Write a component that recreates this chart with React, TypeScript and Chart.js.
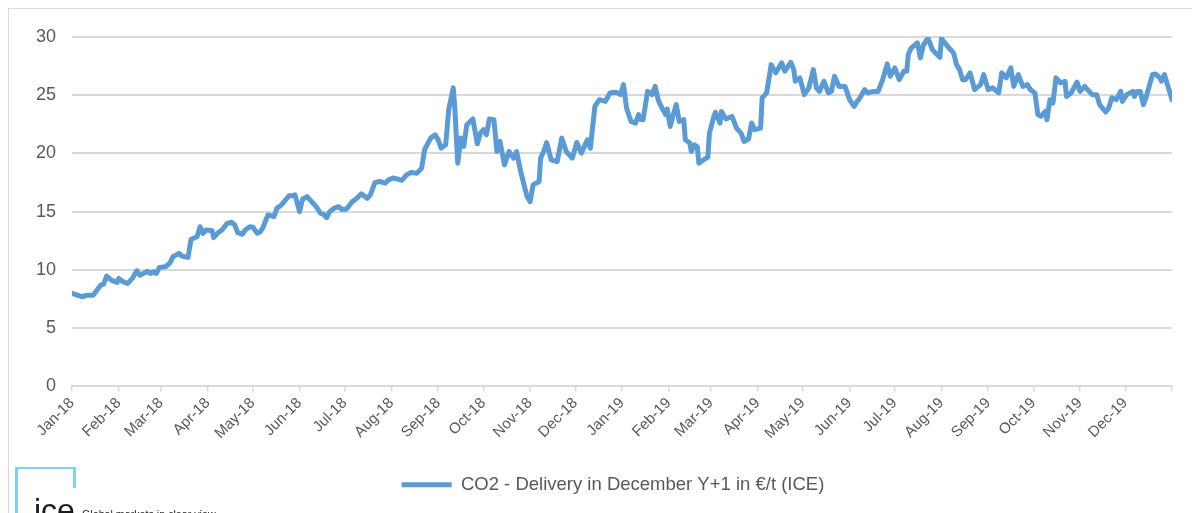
import React, { useEffect, useRef } from "react";
import { Chart, registerables } from "chart.js";

Chart.register(...registerables);

const seriesLabel = "CO2 - Delivery in December Y+1 in €/t (ICE)";

// Trading days, as day offsets from 1 Jan 2018
const dayOffsets = [
  0, 7, 10, 14, 19, 21, 23, 26, 30, 31, 34, 37, 40, 43, 45, 50, 52, 54, 56, 58,
  62, 65, 67, 71, 73, 77, 79, 83, 85, 87, 89, 93, 94, 97, 100, 103, 106, 108, 110, 113,
  115, 118, 120, 123, 125, 127, 130, 134, 136, 139, 144, 146, 148, 151, 153, 156, 159, 162, 165, 167,
  169, 171, 174, 177, 179, 182, 186, 189, 192, 196, 198, 201, 204, 208, 210, 213, 219, 222, 225, 229,
  232, 234, 238, 241, 243, 245, 248, 250, 253, 254, 256, 258, 260, 262, 266, 269, 271, 273, 275, 277,
  280, 282, 284, 287, 290, 293, 295, 298, 302, 304, 306, 310, 311, 313, 315, 318, 322, 325, 328, 332,
  335, 338, 342, 344, 347, 350, 354, 357, 361, 364, 366, 368, 371, 374, 376, 377, 379, 382, 385, 387,
  389, 391, 394, 395, 397, 399, 401, 403, 406, 407, 410, 411, 413, 415, 416, 419, 422, 423, 426, 427,
  430, 431, 434, 438, 441, 444, 446, 449, 451, 453, 457, 458, 461, 464, 467, 471, 473, 477, 479, 480,
  483, 486, 489, 492, 494, 496, 499, 502, 504, 506, 509, 513, 516, 519, 521, 522, 526, 528, 532, 535,
  538, 541, 543, 546, 549, 552, 554, 555, 557, 561, 563, 565, 568, 571, 573, 576, 577, 581, 585, 587,
  589, 591, 593, 596, 599, 603, 605, 608, 611, 615, 617, 620, 623, 625, 628, 631, 634, 636, 639, 641,
  643, 646, 647, 649, 651, 653, 656, 659, 660, 663, 667, 669, 672, 674, 677, 680, 682, 686, 688, 690,
  693, 696, 697, 700, 704, 705, 707, 709, 711, 713, 717, 719, 722, 723, 725, 728, 730,
];

const prices = [
  7.98, 7.69, 7.83, 7.83, 8.69, 8.78, 9.47, 9.12, 8.93, 9.27, 8.98, 8.84, 9.27, 9.93, 9.55, 9.87, 9.7, 9.84, 9.7, 10.22,
  10.27, 10.61, 11.13, 11.42, 11.19, 11.08, 12.63, 12.85, 13.71, 13.14, 13.43, 13.37, 12.77, 13.2, 13.49, 14.0, 14.09, 13.86, 13.2, 13.06,
  13.43, 13.71, 13.66, 13.14, 13.28, 13.71, 14.72, 14.57, 15.3, 15.58, 16.36, 16.36, 16.44, 15.0, 16.07, 16.3, 15.86, 15.43, 14.86, 14.78,
  14.49, 15.0, 15.3, 15.43, 15.21, 15.21, 15.86, 16.15, 16.53, 16.15, 16.44, 17.5, 17.59, 17.45, 17.73, 17.9, 17.7, 18.16, 18.36, 18.31,
  18.74, 20.32, 21.32, 21.6, 21.18, 20.46, 20.75, 23.76, 25.63, 24.04, 19.17, 21.32, 20.6, 22.47, 22.96, 20.83, 21.75, 22.04, 21.6, 22.96,
  22.9, 20.17, 21.03, 19.02, 20.17, 19.6, 20.17, 18.31, 16.3, 15.86, 17.3, 17.59, 19.6, 20.17, 20.94, 19.45, 19.31, 21.32, 20.17, 19.6,
  20.94, 20.03, 21.18, 20.46, 24.04, 24.62, 24.47, 25.2, 25.25, 25.05, 25.91, 23.9, 22.75, 22.61, 23.33, 22.96, 22.9, 25.33, 25.05, 25.76,
  24.62, 24.04, 23.33, 23.82, 22.32, 23.33, 24.19, 22.75, 22.9, 21.18, 20.89, 20.17, 20.75, 20.55, 19.17, 19.45, 19.68, 21.75, 23.18, 23.53,
  22.61, 23.61, 22.96, 23.18, 22.18, 21.75, 21.03, 21.24, 22.61, 22.04, 22.18, 24.77, 25.2, 27.63, 26.92, 27.78, 27.06, 27.83, 27.2, 26.2,
  26.49, 25.05, 25.63, 27.2, 25.63, 25.33, 26.2, 25.2, 25.33, 26.63, 25.76, 25.76, 24.62, 24.04, 24.47, 24.6, 25.48, 25.2, 25.33, 25.33,
  26.34, 27.69, 26.63, 27.35, 26.34, 27.06, 27.06, 28.49, 29.07, 29.5, 28.21, 29.29, 29.92, 28.92, 28.64, 28.26, 29.87, 29.21, 28.64, 27.63,
  27.2, 26.34, 26.34, 26.92, 25.48, 25.91, 26.77, 25.48, 25.63, 25.2, 26.92, 26.49, 27.35, 25.76, 26.77, 25.76, 25.91, 25.48, 25.2, 23.33,
  23.18, 23.61, 22.9, 24.62, 24.33, 26.49, 26.06, 26.2, 24.9, 25.2, 26.12, 25.33, 25.76, 25.48, 25.05, 25.05, 24.19, 23.56, 23.9, 24.77,
  24.62, 25.33, 24.47, 25.05, 25.33, 24.9, 25.33, 25.33, 24.19, 24.9, 26.77, 26.83, 26.49, 26.2, 26.77, 25.48, 24.62,
];

// Month starts (day offsets from 1 Jan 2018) and their labels
const monthTickDays = [
  0, 31, 59, 90, 120, 151, 181, 212, 243, 273, 304, 334,
  365, 396, 424, 455, 485, 516, 546, 577, 608, 638, 669, 699, 730,
];
const monthTickLabels = [
  "Jan-18", "Feb-18", "Mar-18", "Apr-18", "May-18", "Jun-18", "Jul-18", "Aug-18", "Sep-18", "Oct-18", "Nov-18", "Dec-18",
  "Jan-19", "Feb-19", "Mar-19", "Apr-19", "May-19", "Jun-19", "Jul-19", "Aug-19", "Sep-19", "Oct-19", "Nov-19", "Dec-19",
  "",
];
const yTickValues = [0, 5, 10, 15, 20, 25, 30];

const FONT = "'Liberation Sans', Arial, Helvetica, sans-serif";
const TEXT = "#595959";
const GRID = "#d9d9d9";
const LINE = "#5B9BD5";
const LOGO = "#7fd1ee";

export default function App() {
  const ref = useRef<HTMLCanvasElement>(null);

  useEffect(() => {
    document.documentElement.style.overflow = "hidden";
    const chart = new Chart(ref.current as HTMLCanvasElement, {
      type: "line",
      data: {
        datasets: [
          {
            label: seriesLabel,
            data: dayOffsets.map((d, i) => ({ x: d, y: prices[i] })),
            borderColor: LINE,
            backgroundColor: LINE,
            borderWidth: 5,
            pointRadius: 0,
            pointHoverRadius: 0,
            tension: 0,
            borderJoinStyle: "round",
            borderCapStyle: "round",
          },
        ],
      },
      options: {
        animation: false,
        responsive: false,
        events: [],
        layout: { padding: { left: 27, right: 0, top: 28, bottom: 0 } },
        plugins: {
          legend: {
            position: "bottom",
            labels: {
              usePointStyle: true,
              pointStyle: "line",
              pointStyleWidth: 50,
              padding: 30,
              color: TEXT,
              font: { family: FONT, size: 18.5 },
            },
          },
          tooltip: { enabled: false },
        },
        scales: {
          x: {
            type: "linear",
            min: 0,
            max: 730,
            afterBuildTicks: (scale: any) => {
              scale.ticks = monthTickDays.map((v) => ({ value: v }));
            },
            afterFit: (scale: any) => {
              scale.paddingRight = 18;
            },
            ticks: {
              autoSkip: false,
              maxRotation: 45,
              minRotation: 45,
              padding: 3,
              color: TEXT,
              font: { family: FONT, size: 15 },
              callback: (_v: any, i: number) => monthTickLabels[i],
            },
            grid: {
              drawOnChartArea: false,
              drawTicks: true,
              tickLength: 5,
              color: GRID,
              lineWidth: 1.5,
            },
            border: { display: true, color: GRID, width: 2 },
          },
          y: {
            min: 0,
            max: 30,
            afterBuildTicks: (scale: any) => {
              scale.ticks = yTickValues.map((v) => ({ value: v }));
            },
            afterFit: (scale: any) => {
              scale.width = 36;
            },
            ticks: {
              padding: 16,
              color: TEXT,
              font: { family: FONT, size: 18 },
            },
            grid: { color: GRID, lineWidth: 2, drawTicks: false },
            border: { display: false },
          },
        },
      },
    } as any);
    return () => chart.destroy();
  }, []);

  return (
    <div
      style={{
        position: "relative",
        width: 1191,
        height: 504,
        borderTop: `1px solid ${GRID}`,
        borderLeft: `1px solid ${GRID}`,
        overflow: "hidden",
        background: "#fff",
      }}
    >
      <canvas ref={ref} width={1181} height={495} style={{ display: "block" }} />
      <div style={{ position: "absolute", left: 6, top: 458, width: 61, height: 2, background: LOGO }} />
      <div style={{ position: "absolute", left: 6, top: 458, width: 3, height: 60, background: LOGO }} />
      <div style={{ position: "absolute", left: 64, top: 458, width: 3, height: 21, background: LOGO }} />
      <div
        style={{
          position: "absolute",
          left: 25,
          top: 485,
          fontFamily: FONT,
          fontSize: 32,
          lineHeight: "32px",
          color: "#1a1a1a",
          whiteSpace: "nowrap",
        }}
      >
        ice
      </div>
      <div
        style={{
          position: "absolute",
          left: 73,
          top: 500,
          fontFamily: FONT,
          fontSize: 10.7,
          lineHeight: "11px",
          color: "#222",
          whiteSpace: "nowrap",
        }}
      >
        Global markets in clear view
      </div>
    </div>
  );
}
